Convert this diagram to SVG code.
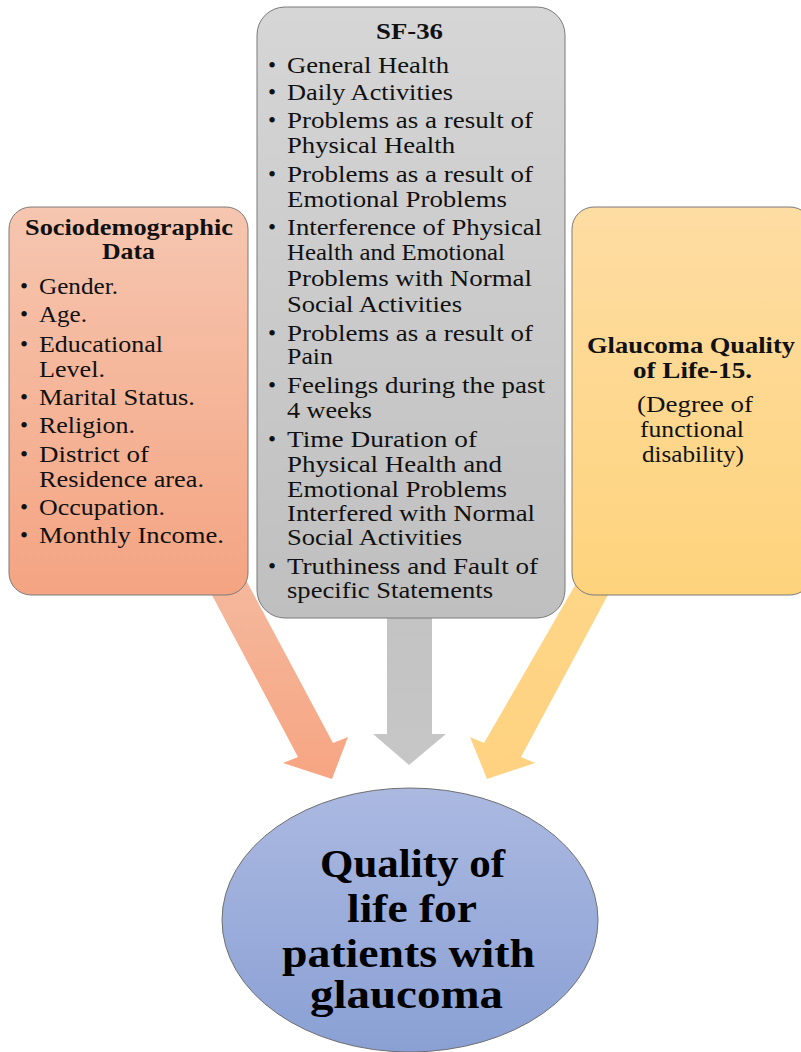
<svg xmlns="http://www.w3.org/2000/svg" width="801" height="1052" viewBox="0 0 801 1052">
<style>
.t{font-family:"Liberation Serif","Times New Roman",serif;font-size:23px;fill:#111}
.b{font-weight:bold}
.big{font-family:"Liberation Serif","Times New Roman",serif;font-size:40px;font-weight:bold;fill:#000}
.box{stroke:#7a7a7a;stroke-width:1}
</style>
<defs>
<linearGradient id="gL" x1="0" y1="0" x2="0" y2="1"><stop offset="0" stop-color="#f6c6b0"/><stop offset="1" stop-color="#f4a482"/></linearGradient>
<linearGradient id="gM" x1="0" y1="0" x2="0" y2="1"><stop offset="0" stop-color="#d6d6d6"/><stop offset="1" stop-color="#bfbfbf"/></linearGradient>
<linearGradient id="gR" x1="0" y1="0" x2="0" y2="1"><stop offset="0" stop-color="#fedda3"/><stop offset="1" stop-color="#fed37c"/></linearGradient>
<linearGradient id="gE" x1="0" y1="0" x2="0" y2="1"><stop offset="0" stop-color="#abb9e1"/><stop offset="1" stop-color="#8aa0d4"/></linearGradient>
<linearGradient id="aL" gradientUnits="userSpaceOnUse" x1="0" y1="580" x2="0" y2="780"><stop offset="0" stop-color="#f4b89c"/><stop offset="1" stop-color="#f7a582"/></linearGradient>
<linearGradient id="aM" gradientUnits="userSpaceOnUse" x1="0" y1="610" x2="0" y2="765"><stop offset="0" stop-color="#c3c3c3"/><stop offset="1" stop-color="#c6c6c6"/></linearGradient>
<linearGradient id="aR" gradientUnits="userSpaceOnUse" x1="0" y1="580" x2="0" y2="780"><stop offset="0" stop-color="#fed688"/><stop offset="1" stop-color="#fed280"/></linearGradient>
</defs>

<g id="connectors">
<polygon fill="url(#aL)" points="204,580 298,757 283,763 332,779 348,737 333,743 246,580"/>
<polygon fill="url(#aM)" points="387,610 387,734 373,734 409,765 446,734 432,734 432,610"/>
<polygon fill="url(#aR)" points="578,580 484,743 470,737 487,779 535,763 521,757 616,580"/>
</g>

<g id="node-sociodemographic">
<rect class="box" x="9" y="207" width="239" height="388" rx="22" fill="url(#gL)"/>
<text class="t b" x="25" y="235" textLength="208" lengthAdjust="spacingAndGlyphs">Sociodemographic</text>
<text class="t b" x="102" y="259" textLength="53" lengthAdjust="spacingAndGlyphs">Data</text>
<text class="t" x="20" y="294">•</text>
<text class="t" x="39" y="294" textLength="79" lengthAdjust="spacingAndGlyphs">Gender.</text>
<text class="t" x="20" y="322">•</text>
<text class="t" x="39" y="322" textLength="48" lengthAdjust="spacingAndGlyphs">Age.</text>
<text class="t" x="20" y="352">•</text>
<text class="t" x="39" y="352" textLength="124" lengthAdjust="spacingAndGlyphs">Educational</text>
<text class="t" x="39" y="377" textLength="66" lengthAdjust="spacingAndGlyphs">Level.</text>
<text class="t" x="20" y="405">•</text>
<text class="t" x="39" y="405" textLength="156" lengthAdjust="spacingAndGlyphs">Marital Status.</text>
<text class="t" x="20" y="433">•</text>
<text class="t" x="39" y="433" textLength="96" lengthAdjust="spacingAndGlyphs">Religion.</text>
<text class="t" x="20" y="462">•</text>
<text class="t" x="39" y="462" textLength="110" lengthAdjust="spacingAndGlyphs">District of</text>
<text class="t" x="39" y="487" textLength="165" lengthAdjust="spacingAndGlyphs">Residence area.</text>
<text class="t" x="20" y="515">•</text>
<text class="t" x="39" y="515" textLength="126" lengthAdjust="spacingAndGlyphs">Occupation.</text>
<text class="t" x="20" y="543">•</text>
<text class="t" x="39" y="543" textLength="185" lengthAdjust="spacingAndGlyphs">Monthly Income.</text>
</g>

<g id="node-sf36">
<rect class="box" x="257" y="7" width="308" height="611" rx="28" fill="url(#gM)"/>
<text class="t b" x="376" y="39" textLength="67" lengthAdjust="spacingAndGlyphs">SF-36</text>
<text class="t" x="268" y="73">•</text>
<text class="t" x="287" y="73" textLength="162" lengthAdjust="spacingAndGlyphs">General Health</text>
<text class="t" x="268" y="100">•</text>
<text class="t" x="287" y="100" textLength="166" lengthAdjust="spacingAndGlyphs">Daily Activities</text>
<text class="t" x="268" y="128">•</text>
<text class="t" x="287" y="128" textLength="246" lengthAdjust="spacingAndGlyphs">Problems as a result of</text>
<text class="t" x="287" y="153" textLength="168" lengthAdjust="spacingAndGlyphs">Physical Health</text>
<text class="t" x="268" y="182">•</text>
<text class="t" x="287" y="182" textLength="246" lengthAdjust="spacingAndGlyphs">Problems as a result of</text>
<text class="t" x="287" y="207" textLength="220" lengthAdjust="spacingAndGlyphs">Emotional Problems</text>
<text class="t" x="268" y="235">•</text>
<text class="t" x="287" y="235" textLength="255" lengthAdjust="spacingAndGlyphs">Interference of Physical</text>
<text class="t" x="287" y="260" textLength="218" lengthAdjust="spacingAndGlyphs">Health and Emotional</text>
<text class="t" x="287" y="286" textLength="245" lengthAdjust="spacingAndGlyphs">Problems with Normal</text>
<text class="t" x="287" y="312" textLength="175" lengthAdjust="spacingAndGlyphs">Social Activities</text>
<text class="t" x="268" y="341">•</text>
<text class="t" x="287" y="341" textLength="246" lengthAdjust="spacingAndGlyphs">Problems as a result of</text>
<text class="t" x="287" y="364" textLength="46" lengthAdjust="spacingAndGlyphs">Pain</text>
<text class="t" x="268" y="393">•</text>
<text class="t" x="287" y="393" textLength="258" lengthAdjust="spacingAndGlyphs">Feelings during the past</text>
<text class="t" x="287" y="418" textLength="85" lengthAdjust="spacingAndGlyphs">4 weeks</text>
<text class="t" x="268" y="447">•</text>
<text class="t" x="287" y="447" textLength="190" lengthAdjust="spacingAndGlyphs">Time Duration of</text>
<text class="t" x="287" y="472" textLength="215" lengthAdjust="spacingAndGlyphs">Physical Health and</text>
<text class="t" x="287" y="497" textLength="220" lengthAdjust="spacingAndGlyphs">Emotional Problems</text>
<text class="t" x="287" y="521" textLength="248" lengthAdjust="spacingAndGlyphs">Interfered with Normal</text>
<text class="t" x="287" y="545" textLength="175" lengthAdjust="spacingAndGlyphs">Social Activities</text>
<text class="t" x="268" y="574">•</text>
<text class="t" x="287" y="574" textLength="251" lengthAdjust="spacingAndGlyphs">Truthiness and Fault of</text>
<text class="t" x="287" y="598" textLength="206" lengthAdjust="spacingAndGlyphs">specific Statements</text>
</g>

<g id="node-gql15">
<rect class="box" x="572" y="207" width="240" height="388" rx="22" fill="url(#gR)"/>
<text class="t b" x="587" y="353" textLength="208" lengthAdjust="spacingAndGlyphs">Glaucoma Quality</text>
<text class="t b" x="633" y="378" textLength="119" lengthAdjust="spacingAndGlyphs">of Life-15.</text>
<text class="t" x="637" y="412" textLength="116" lengthAdjust="spacingAndGlyphs">(Degree of</text>
<text class="t" x="640" y="437" textLength="104" lengthAdjust="spacingAndGlyphs">functional</text>
<text class="t" x="642" y="462" textLength="102" lengthAdjust="spacingAndGlyphs">disability)</text>
</g>

<g id="node-qol">
<ellipse cx="410" cy="920" rx="188" ry="132" fill="url(#gE)" stroke="#6f6f6f" stroke-width="1"/>
<text class="big" x="320" y="877" textLength="185" lengthAdjust="spacingAndGlyphs">Quality of</text>
<text class="big" x="347" y="922" textLength="130" lengthAdjust="spacingAndGlyphs">life for</text>
<text class="big" x="282" y="967" textLength="253" lengthAdjust="spacingAndGlyphs">patients with</text>
<text class="big" x="310" y="1008" textLength="193" lengthAdjust="spacingAndGlyphs">glaucoma</text>
</g>
</svg>
